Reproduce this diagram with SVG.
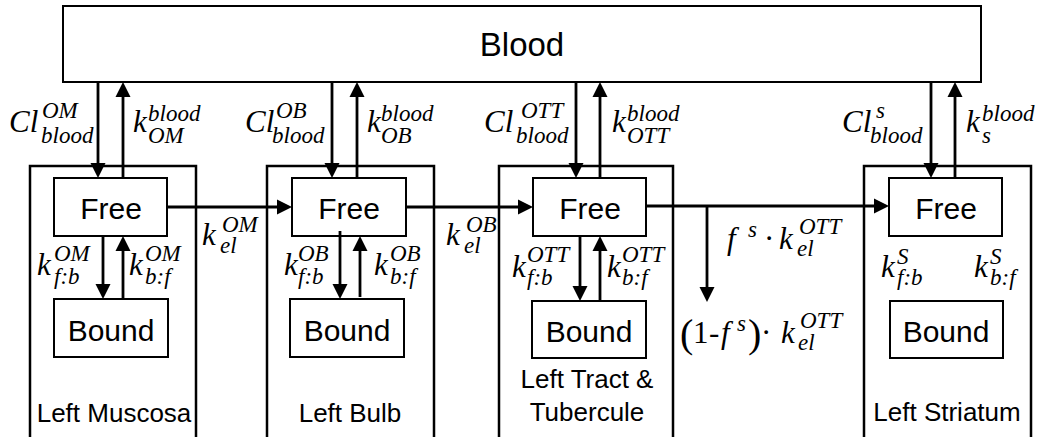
<svg xmlns="http://www.w3.org/2000/svg" width="1049" height="437" viewBox="0 0 1049 437">
<style>
.box{fill:#fff;stroke:#000;stroke-width:2}
.comp{fill:none;stroke:#000;stroke-width:2.5}
.lbl{font-family:"Liberation Sans",Arial,sans-serif;fill:#000}
.arr{stroke:#000;stroke-width:2.8;fill:none}
.m{font-family:"Liberation Serif","Times New Roman",serif;font-style:italic;font-size:31px;fill:#000}
.s{font-size:23px}
.r{font-style:normal}
</style>
<defs>
<marker id="ah" markerUnits="userSpaceOnUse" markerWidth="16" markerHeight="16" refX="0" refY="0" orient="auto" overflow="visible">
<path d="M0,-7.5 L15,0 L0,7.5 Z" fill="#000"/>
</marker>
</defs>

<g id="blood">
<rect class="box" x="63" y="6" width="918" height="76"/>
<text class="lbl" x="522" y="56" font-size="33" text-anchor="middle">Blood</text>
</g>

<g id="left-muscosa">
<rect class="comp" x="30" y="166" width="166" height="280"/>
<text class="lbl" x="114" y="422" font-size="26" text-anchor="middle">Left Muscosa</text>
</g>
<g id="left-bulb">
<rect class="comp" x="267" y="166" width="167" height="280"/>
<text class="lbl" x="350" y="422" font-size="26" text-anchor="middle">Left Bulb</text>
</g>
<g id="left-tract">
<rect class="comp" x="499" y="166" width="174" height="280"/>
<text class="lbl" x="587" y="388" font-size="26" text-anchor="middle">Left Tract &amp;</text>
<text class="lbl" x="587" y="421" font-size="26" text-anchor="middle">Tubercule</text>
</g>
<g id="left-striatum">
<rect class="comp" x="864" y="166" width="167" height="280"/>
<text class="lbl" x="947" y="421" font-size="26" text-anchor="middle">Left Striatum</text>
</g>

<g id="free-om">
<rect class="box" x="54" y="178" width="113" height="58"/>
<text class="lbl" x="111" y="219" font-size="30" text-anchor="middle">Free</text>
</g>
<g id="bound-om">
<rect class="box" x="54" y="299" width="114" height="58"/>
<text class="lbl" x="111" y="341" font-size="30" text-anchor="middle">Bound</text>
</g>
<g id="free-ob">
<rect class="box" x="292" y="178" width="114" height="58"/>
<text class="lbl" x="349" y="219" font-size="30" text-anchor="middle">Free</text>
</g>
<g id="bound-ob">
<rect class="box" x="290" y="299" width="114" height="58"/>
<text class="lbl" x="347" y="341" font-size="30" text-anchor="middle">Bound</text>
</g>
<g id="free-ott">
<rect class="box" x="533" y="178" width="113" height="58"/>
<text class="lbl" x="590" y="219" font-size="30" text-anchor="middle">Free</text>
</g>
<g id="bound-ott">
<rect class="box" x="532" y="301" width="114" height="57"/>
<text class="lbl" x="589" y="342" font-size="30" text-anchor="middle">Bound</text>
</g>
<g id="free-s">
<rect class="box" x="889" y="178" width="113" height="58"/>
<text class="lbl" x="946" y="219" font-size="30" text-anchor="middle">Free</text>
</g>
<g id="bound-s">
<rect class="box" x="890" y="301" width="113" height="57"/>
<text class="lbl" x="946" y="342" font-size="30" text-anchor="middle">Bound</text>
</g>

<g id="connectors">
<line class="arr" x1="98" y1="82" x2="98" y2="163" marker-end="url(#ah)"/>
<line class="arr" x1="123" y1="178" x2="123" y2="97" marker-end="url(#ah)"/>
<line class="arr" x1="332" y1="82" x2="332" y2="163" marker-end="url(#ah)"/>
<line class="arr" x1="357" y1="178" x2="357" y2="97" marker-end="url(#ah)"/>
<line class="arr" x1="576" y1="82" x2="576" y2="163" marker-end="url(#ah)"/>
<line class="arr" x1="600" y1="178" x2="600" y2="97" marker-end="url(#ah)"/>
<line class="arr" x1="931" y1="82" x2="931" y2="163" marker-end="url(#ah)"/>
<line class="arr" x1="955" y1="178" x2="955" y2="97" marker-end="url(#ah)"/>
<line class="arr" x1="103" y1="236" x2="103" y2="284" marker-end="url(#ah)"/>
<line class="arr" x1="123" y1="299" x2="123" y2="251" marker-end="url(#ah)"/>
<line class="arr" x1="340" y1="231" x2="340" y2="284" marker-end="url(#ah)"/>
<line class="arr" x1="360" y1="297" x2="360" y2="251" marker-end="url(#ah)"/>
<line class="arr" x1="580" y1="236" x2="580" y2="286" marker-end="url(#ah)"/>
<line class="arr" x1="600" y1="301" x2="600" y2="251" marker-end="url(#ah)"/>
<line class="arr" x1="167" y1="207" x2="277" y2="207" marker-end="url(#ah)"/>
<line class="arr" x1="406" y1="207" x2="518" y2="207" marker-end="url(#ah)"/>
<line class="arr" x1="646" y1="206" x2="874" y2="206" marker-end="url(#ah)"/>
<line class="arr" x1="707" y1="206" x2="707" y2="287" marker-end="url(#ah)"/>
</g>

<g id="labels">
<text class="m"><tspan x="9" y="132">Cl</tspan><tspan class="s" x="42" y="118">OM</tspan><tspan class="s" x="41" y="143">blood</tspan></text>
<text class="m"><tspan x="133" y="132">k</tspan><tspan class="s" x="148" y="121">blood</tspan><tspan class="s" x="148" y="143">OM</tspan></text>
<text class="m"><tspan x="245" y="132">Cl</tspan><tspan class="s" x="276" y="118">OB</tspan><tspan class="s" x="272" y="143">blood</tspan></text>
<text class="m"><tspan x="367" y="132">k</tspan><tspan class="s" x="381" y="121">blood</tspan><tspan class="s" x="381" y="143">OB</tspan></text>
<text class="m"><tspan x="484" y="132">Cl</tspan><tspan class="s" x="521" y="118">OTT</tspan><tspan class="s" x="516" y="143">blood</tspan></text>
<text class="m"><tspan x="612" y="132">k</tspan><tspan class="s" x="627" y="121">blood</tspan><tspan class="s" x="627" y="143">OTT</tspan></text>
<text class="m"><tspan x="842" y="132">Cl</tspan><tspan class="s" x="876" y="118">s</tspan><tspan class="s" x="870" y="143">blood</tspan></text>
<text class="m"><tspan x="966" y="132">k</tspan><tspan class="s" x="982" y="121">blood</tspan><tspan class="s" x="982" y="143">s</tspan></text>

<text class="m"><tspan x="37" y="275">k</tspan><tspan class="s" x="54" y="261">OM</tspan><tspan class="s" x="54" y="284">f:b</tspan></text>
<text class="m"><tspan x="129" y="275">k</tspan><tspan class="s" x="145" y="261">OM</tspan><tspan class="s" x="145" y="284">b:f</tspan></text>
<text class="m"><tspan x="284" y="275">k</tspan><tspan class="s" x="298" y="261">OB</tspan><tspan class="s" x="298" y="284">f:b</tspan></text>
<text class="m"><tspan x="374" y="275">k</tspan><tspan class="s" x="390" y="261">OB</tspan><tspan class="s" x="390" y="284">b:f</tspan></text>
<text class="m"><tspan x="512" y="277">k</tspan><tspan class="s" x="527" y="262">OTT</tspan><tspan class="s" x="527" y="285">f:b</tspan></text>
<text class="m"><tspan x="607" y="277">k</tspan><tspan class="s" x="622" y="262">OTT</tspan><tspan class="s" x="622" y="285">b:f</tspan></text>
<text class="m"><tspan x="881" y="277">k</tspan><tspan class="s" x="897" y="264">S</tspan><tspan class="s" x="897" y="285">f:b</tspan></text>
<text class="m"><tspan x="974" y="277">k</tspan><tspan class="s" x="990" y="264">S</tspan><tspan class="s" x="990" y="285">b:f</tspan></text>

<text class="m"><tspan x="202" y="245">k</tspan><tspan class="s" x="222" y="232">OM</tspan><tspan class="s" x="220" y="253">el</tspan></text>
<text class="m"><tspan x="446" y="245">k</tspan><tspan class="s" x="466" y="232">OB</tspan><tspan class="s" x="464" y="253">el</tspan></text>

<text class="m"><tspan x="727" y="249">f</tspan><tspan class="s" x="748" y="237">s</tspan><tspan class="r" x="764" y="249">·</tspan><tspan x="779" y="249">k</tspan><tspan class="s" x="799" y="234">OTT</tspan><tspan class="s" x="797" y="256">el</tspan></text>
<text class="m"><tspan class="r" x="680" y="347" font-size="40">(</tspan><tspan class="r" x="693" y="343">1</tspan><tspan class="r" x="709" y="343">-</tspan><tspan x="721" y="343">f</tspan><tspan class="s" x="737" y="331">s</tspan><tspan class="r" x="748" y="347" font-size="40">)</tspan><tspan class="r" x="761" y="343">·</tspan><tspan x="781" y="343">k</tspan><tspan class="s" x="800" y="328">OTT</tspan><tspan class="s" x="798" y="350">el</tspan></text>
</g>
</svg>
